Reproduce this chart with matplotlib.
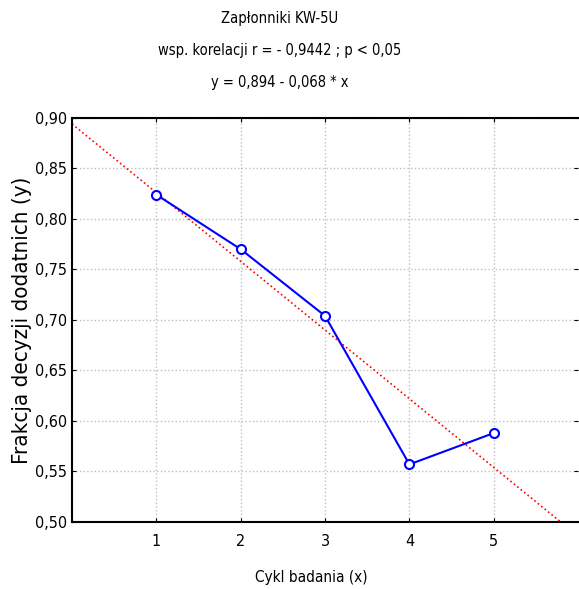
import matplotlib
matplotlib.use("Agg")
import matplotlib.pyplot as plt
import numpy as np

# dane
cykl = [1, 2, 3, 4, 5]
frakcja = [0.824, 0.770, 0.704, 0.557, 0.588]
a, b = 0.894, -0.068
tytul = ["Zapłonniki KW-5U",
         "wsp. korelacji r = - 0,9442 ; p < 0,05",
         "y = 0,894 - 0,068 * x"]
yticks = [0.50, 0.55, 0.60, 0.65, 0.70, 0.75, 0.80, 0.85, 0.90]

plt.rcParams['font.family'] = ['DejaVu Sans']
plt.rcParams['font.stretch'] = 'condensed'

fig = plt.figure(figsize=(5.79, 5.89), dpi=100)
ax = fig.add_axes([0.1244, 0.1138, 0.874, 0.686])

# linia regresji
xr = np.array([0, 6])
ax.plot(xr, a + b * xr, color='red', linestyle=':', linewidth=1.2, zorder=2)

# punkty pomiarowe
ax.plot(cykl, frakcja, color='blue', linewidth=1.5, marker='o', markersize=6.5,
        markerfacecolor='white', markeredgecolor='blue', markeredgewidth=1.5, zorder=3)

ax.set_xlim(0, 6)
ax.set_ylim(0.50, 0.90)
ax.set_xticks(cykl)
ax.set_yticks(yticks)
ax.set_yticklabels([f"{v:.2f}".replace('.', ',') for v in yticks])
ax.tick_params(labelsize=11.5, direction='in', top=True, right=True, length=3)
ax.tick_params(axis='x', pad=9)
ax.grid(True, color='#c0c0c0', linestyle=':', linewidth=1)

for s in ['left', 'bottom', 'top']:
    ax.spines[s].set_linewidth(1.5)
ax.spines['right'].set_visible(False)

ax.set_xlabel("Cykl badania (x)", fontsize=11)
ax.xaxis.set_label_coords(0.472, -0.118)
ax.set_ylabel("Frakcja decyzji dodatnich (y)", fontsize=16, labelpad=2)

for i, t in enumerate(tytul):
    fig.text(280 / 579, 1 - (18 + 32 * i) / 589, t, ha='center', va='center', fontsize=10.5)

fig.savefig("out.png", dpi=100)
